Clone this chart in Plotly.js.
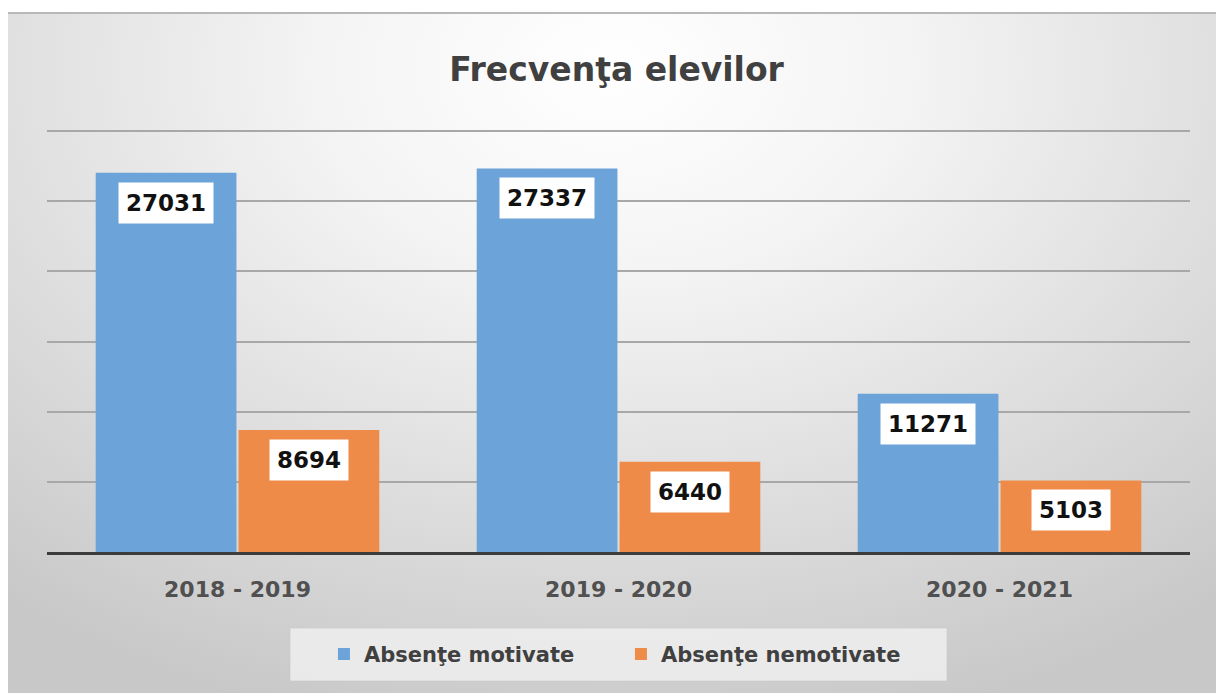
<!DOCTYPE html>
<html>
<head>
<meta charset="utf-8">
<script src="https://cdn.plot.ly/plotly-3.0.1.min.js"></script>
<style>
  html, body { margin:0; padding:0; background:#ffffff; width:1216px; height:693px; overflow:hidden; }
  #bg { position:absolute; left:8px; top:12px; width:1208px; height:681px;
        background: radial-gradient(ellipse 80% 100% at 50% 8%, #ffffff 0%, #f4f4f4 30%, #e0e0e0 62%, #c8c8c8 100%);
        border-top:2px solid #b8b8b8; box-sizing:border-box; }
  #chart { position:absolute; left:0; top:0; width:1216px; height:693px; }
</style>
</head>
<body>
<div id="bg"></div>
<div id="chart"></div>
<script>
const categories = ["2018 - 2019", "2019 - 2020", "2020 - 2021"];
const seriesNames = ["Absenţe motivate", "Absenţe nemotivate"];
const motivate = [27031, 27337, 11271];
const nemotivate = [8694, 6440, 5103];
const chartTitle = "Frecvenţa elevilor";

const colors = ["#6ca3d8", "#ee8b48"];
const series = [motivate, nemotivate];

const traces = series.map((vals, i) => ({
  type: "bar",
  name: seriesNames[i],
  x: categories,
  y: vals,
  marker: { color: colors[i] },
  hoverinfo: "skip"
}));

const shiftPx = 71.5;
const annotations = [];
series.forEach((vals, i) => {
  vals.forEach((v, j) => {
    annotations.push({
      x: categories[j], y: v, xref: "x", yref: "y",
      xshift: i === 0 ? -shiftPx : shiftPx,
      yshift: -9,
      yanchor: "top", xanchor: "center",
      text: String(v),
      showarrow: false,
      bgcolor: "#ffffff",
      borderpad: 7,
      font: { family: "DejaVu Sans", size: 23, color: "#111111", weight: "bold" }
    });
  });
});

const layout = {
  width: 1216, height: 693,
  paper_bgcolor: "rgba(0,0,0,0)",
  plot_bgcolor: "rgba(0,0,0,0)",
  margin: { l: 47, r: 26, t: 129, b: 141 },
  title: {
    text: chartTitle,
    x: 0.507, xanchor: "center",
    y: 1 - 69/693, yref: "container", yanchor: "middle",
    font: { family: "DejaVu Sans", size: 33, color: "#404040", weight: "bold" }
  },
  showlegend: true,
  legend: {
    orientation: "h",
    x: 0.2423, xanchor: "left",
    y: -0.242, yanchor: "middle",
    bgcolor: "rgba(0,0,0,0)",
    entrywidth: 252, entrywidthmode: "pixels",
    font: { family: "DejaVu Sans", size: 21, color: "#404040", weight: "bold" },
    traceorder: "normal"
  },
  barmode: "group",
  bargap: 0.25,
  bargroupgap: 0.015,
  xaxis: {
    type: "category",
    showgrid: false,
    showline: true, linecolor: "#3c3c3c", linewidth: 3,
    ticks: "", ticklabelstandoff: 16,
    tickfont: { family: "DejaVu Sans", size: 22, color: "#505050", weight: "bold" },
    fixedrange: true
  },
  yaxis: {
    range: [0, 30150],
    tickvals: [5000, 10000, 15000, 20000, 25000, 30000],
    showticklabels: false,
    showgrid: true, gridcolor: "#a8a8a8", gridwidth: 2,
    zeroline: false,
    fixedrange: true
  },
  shapes: [
    { type: "rect", xref: "paper", yref: "paper",
      x0: (290-47)/1143, x1: (947-47)/1143,
      y0: (552-681)/423, y1: (552-628)/423,
      fillcolor: "rgba(238,238,238,0.85)", line: { color: "rgba(200,200,200,0.6)", width: 1 },
      layer: "below" }
  ],
  annotations: annotations
};

Plotly.newPlot("chart", traces, layout, { displayModeBar: false, staticPlot: true });
</script>
</body>
</html>
